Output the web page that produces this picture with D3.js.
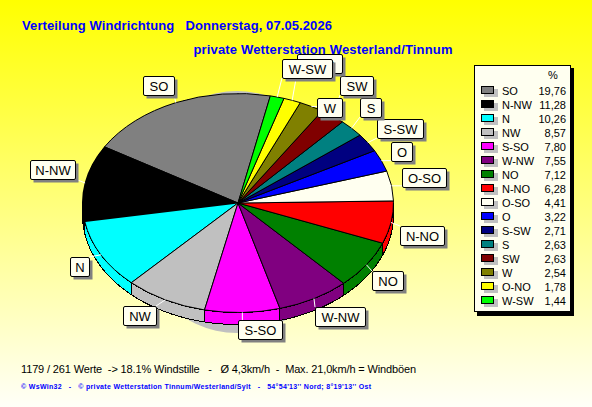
<!DOCTYPE html>
<html><head><meta charset="utf-8">
<script src="https://cdn.jsdelivr.net/npm/d3@7/dist/d3.min.js"></script>
<style>
html,body{margin:0;padding:0;background:#fff;overflow:hidden}
text{font-family:"Liberation Sans",Arial,sans-serif;white-space:pre}
</style></head><body>
<svg id="c" width="592" height="407"></svg>
<script>
const categories=["SO","N-NW","N","NW","S-SO","W-NW","NO","N-NO","O-SO","O","S-SW","S","SW","W","O-NO","W-SW"];
const values=[19.76,11.28,10.26,8.57,7.80,7.55,7.12,6.28,4.41,3.22,2.71,2.63,2.63,2.54,1.78,1.44];
const valueLabels=["19,76","11,28","10,26","8,57","7,80","7,55","7,12","6,28","4,41","3,22","2,71","2,63","2,63","2,54","1,78","1,44"];
const colors=["#808080","#000000","#00ffff","#c0c0c0","#ff00ff","#800080","#008000","#ff0000","#fffff0","#0000ff","#000080","#008080","#800000","#808000","#ffff00","#00ff00"];
// label box layout [x0,y0,x1,y1], same order as categories
const labelBoxes=[[143,76,174,95],[30,160,75,179],[70,257,89,276],[123,306,156,325],[238,320,282,339],[315,307,365,326],[372,271,403,290],[400,226,444,245],[402,168,446,187],[391,142,412,161],[377,119,423,138],[360,98,381,117],[340,76,373,95],[317,98,342,117],[297,54,342,73],[282,59,332,78]];
const titleLine1="Verteilung Windrichtung   Donnerstag, 07.05.2026";
const titleLine2="private Wetterstation Westerland/Tinnum";
const infoLine="1179 / 261 Werte  -> 18.1% Windstille   -   Ø 4,3km/h  -  Max. 21,0km/h = Windböen";
const footerLine="© WsWin32   -   © private Wetterstation Tinnum/Westerland/Sylt   -   54°54'13'' Nord; 8°19'13'' Ost";

const svg=d3.select("#c");
const defs=svg.append("defs");
const g=defs.append("linearGradient").attr("id","bg").attr("x1",0).attr("y1",0).attr("x2",0).attr("y2",1);
g.append("stop").attr("offset",0).attr("stop-color","#ffff00");
g.append("stop").attr("offset",1).attr("stop-color","#fffff8");
svg.append("rect").attr("width",592).attr("height",407).attr("fill","url(#bg)");

// pie geometry
const cx=238,cy=203,rx=155.5,ry=109.5,depth=12;
const rad=d=>d*Math.PI/180;
const start=rad(12);
const pie=d3.pie().sort(null).value(d=>d).startAngle(start).endAngle(start-2*Math.PI);
const slices=pie(values);
const px=a=>cx+rx*Math.sin(a), py=a=>cy-ry*Math.cos(a);

// shadow
svg.append("ellipse").attr("cx",237).attr("cy",212).attr("rx",108).attr("ry",121).attr("fill","#c0c0c0");

// side wall, lower half only
const wallLo=rad(-270), wallHi=rad(-90);
const line=d3.line();
const wall=svg.append("g").attr("shape-rendering","crispEdges");
slices.forEach((s,i)=>{
  const a0=Math.max(Math.min(s.startAngle,s.endAngle),wallLo);
  const a1=Math.min(Math.max(s.startAngle,s.endAngle),wallHi);
  if(a1<=a0) return;
  const n=Math.max(2,Math.ceil((a1-a0)/rad(1)));
  const as=d3.range(n+1).map(k=>a0+(a1-a0)*k/n);
  const pts=as.map(a=>[px(a),py(a)]).concat(as.slice().reverse().map(a=>[px(a),py(a)+depth]));
  wall.append("path").attr("d",line(pts)+"Z").attr("fill",colors[i]).attr("stroke","#000").attr("stroke-width",1);
});

// top face
const arc=d3.arc().innerRadius(0).outerRadius(rx);
svg.append("g").attr("transform",`translate(${cx},${cy}) scale(1,${ry/rx})`)
 .attr("shape-rendering","crispEdges")
 .selectAll("path").data(slices).join("path")
 .attr("d",arc).attr("fill",(d,i)=>colors[i]).attr("stroke","#000").attr("stroke-width",1)
 .attr("vector-effect","non-scaling-stroke");

// leader lines
const clamp=(v,a,b)=>Math.max(a,Math.min(b,v));
slices.forEach((s,i)=>{
  const m=(s.startAngle+s.endAngle)/2, x=px(m), y=py(m), b=labelBoxes[i];
  svg.append("line").attr("x1",x).attr("y1",y).attr("x2",clamp(x,b[0],b[2])).attr("y2",clamp(y,b[1],b[3]))
    .attr("stroke","#fff").attr("stroke-width",1);
});

// labels
categories.forEach((c,i)=>{
  const b=labelBoxes[i], w=b[2]-b[0], h=b[3]-b[1];
  svg.append("rect").attr("x",b[0]+3.5).attr("y",b[1]+3.5).attr("width",w).attr("height",h).attr("fill","#808080");
  svg.append("rect").attr("x",b[0]+.5).attr("y",b[1]+.5).attr("width",w).attr("height",h).attr("rx",1.5)
    .attr("fill","#fffff0").attr("stroke","#000");
  svg.append("text").attr("x",b[0]+w/2+(c==="O-NO"?-2:.5)).attr("y",b[1]+14.5).attr("text-anchor","middle")
    .attr("font-size",13).attr("fill","#000").text(c);
});

// legend
svg.append("rect").attr("x",477).attr("y",68).attr("width",97).attr("height",248).attr("fill","#000");
svg.append("rect").attr("x",474.5).attr("y",65.5).attr("width",96).attr("height",246).attr("fill","#fffff0").attr("stroke","#000");
svg.append("text").attr("x",553).attr("y",79).attr("text-anchor","middle").attr("font-size",11).text("%");
const rowY=d3.scalePoint().domain(categories).range([91,301]);
categories.forEach((c,i)=>{
  const y=rowY(c);
  svg.append("rect").attr("x",484).attr("y",y-2).attr("width",14).attr("height",8).attr("fill","#c0c0c0");
  svg.append("rect").attr("x",481.5).attr("y",y-4.5).attr("width",12).attr("height",7).attr("fill",colors[i]).attr("stroke","#000");
  svg.append("text").attr("x",502).attr("y",y+4).attr("font-size",11).text(c);
  svg.append("text").attr("x",566).attr("y",y+4).attr("text-anchor","end").attr("font-size",11).text(valueLabels[i]);
});

// titles
svg.append("text").attr("x",22).attr("y",30).attr("font-size",13).attr("font-weight","bold").attr("fill","#0000ff")
  .attr("textLength",310).attr("lengthAdjust","spacing").text(titleLine1);
svg.append("text").attr("x",193.5).attr("y",54).attr("font-size",13).attr("font-weight","bold").attr("fill","#0000ff")
  .attr("textLength",259).attr("lengthAdjust","spacing").text(titleLine2);
svg.append("text").attr("x",21).attr("y",373).attr("font-size",11).attr("fill","#000")
  .attr("textLength",395).attr("lengthAdjust","spacing").text(infoLine);
svg.append("text").attr("x",21).attr("y",389).attr("font-size",7).attr("font-weight","bold").attr("fill","#0000ff")
  .attr("textLength",350).attr("lengthAdjust","spacing").text(footerLine);
</script></body></html>
